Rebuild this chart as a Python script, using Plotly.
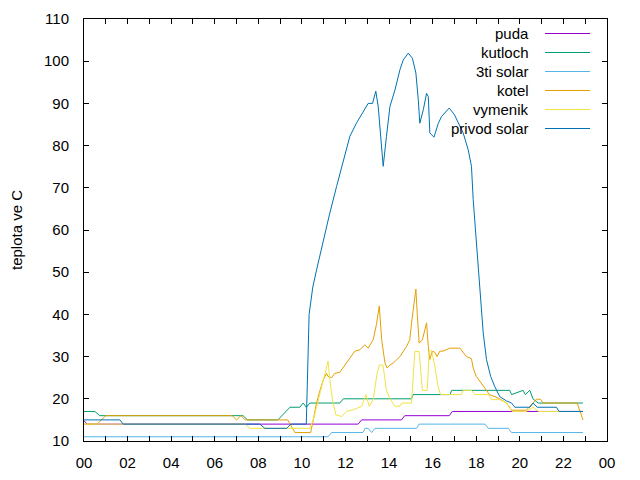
import plotly.graph_objects as go

# ---------------- data (hours of day, temperature in C) ----------------
puda_t = [0, 0.15, 12.58, 12.74, 14.57, 14.72, 16.76, 16.9, 22.9]
puda_v = [14.8, 14, 14, 15, 15, 16, 16, 17, 17]

kutloch_t = [0, 0.5, 0.72, 7.3, 7.5, 8.9, 9.45, 9.9, 10.06, 10.2, 10.37, 11.74, 11.9,
             15.03, 15.1, 16.8, 16.87, 19.54, 19.62, 20.15, 20.25, 20.46, 20.6, 20.84, 22.9]
kutloch_v = [17, 17, 16, 16, 15, 15, 18, 18, 19, 18, 19, 19, 20,
             20, 21, 21, 22, 22, 21, 22, 21, 22, 20, 19, 19]

solar3_t = [0, 11.2, 11.36, 12.8, 12.9, 13.04, 13.2, 13.35, 15.26, 15.38, 18.4, 18.55,
            19.47, 19.62, 22.9]
solar3_v = [11, 11, 12, 12, 13, 13, 12, 13, 13, 14, 14, 13, 13, 12, 12]

kotel_t = [0, 0.6, 1.0, 6.8, 7.0, 7.2, 7.4, 9.35, 9.68, 10.4, 10.52, 10.67, 10.83, 10.98,
           11.13, 11.2, 11.36, 11.5, 11.74, 11.97, 12.2, 12.43, 12.66, 12.89, 13.04, 13.27,
           13.42, 13.55, 13.66, 13.81, 13.91, 14.04, 14.19, 14.5, 14.8, 14.95, 15.03, 15.14,
           15.23, 15.29, 15.38, 15.53, 15.64, 15.72, 15.8, 15.87, 15.98, 16.1, 16.2, 16.33,
           16.48, 16.79, 17.25, 17.55, 17.78, 17.86, 18.0, 18.24, 18.4, 18.6, 19.0, 19.39,
           19.62, 20.3, 20.76, 20.95, 21.07, 22.63, 22.83, 22.9]
kotel_v = [14, 14, 16, 16, 15, 16, 15, 15, 12, 12, 15, 19, 22, 24.5,
           26, 25.3, 25, 26, 26.3, 28, 29.6, 31.3, 31.6, 32.8, 32, 34,
           37.6, 42, 34, 28.5, 27.3, 28, 28.5, 30, 32.4, 34, 37.9, 42,
           46, 40.3, 33.2, 34, 36.4, 38, 32.4, 29.3, 31.3, 31, 30, 31.3,
           31.3, 32, 32, 30, 29.5, 27.3, 25.3, 23.7, 22.5, 21, 20.2, 19,
           17.3, 17.3, 19.9, 19.9, 19, 19, 16, 15]

vymenik_t = [0, 7.4, 7.6, 10.37, 10.52, 10.75, 10.98, 11.13, 11.2, 11.28, 11.4, 11.56,
             11.82, 12.05, 12.35, 12.74, 12.94, 13.09, 13.27, 13.45, 13.55, 13.72, 13.88,
             14.04, 14.27, 14.5, 14.58, 15.03, 15.18, 15.38, 15.53, 15.75, 15.84, 15.95,
             16.1, 16.25, 16.36, 17.32, 17.4, 17.78, 17.94, 18.55, 18.7, 19.08, 19.39,
             19.54, 19.65, 20.3, 20.6, 20.85, 22.9]
vymenik_v = [14, 14, 13, 13, 15, 19.8, 24.5, 27.7, 28.9, 24.5, 19.8, 16.2,
             15.8, 17, 17.4, 18.2, 21, 18.2, 19.8, 26, 28, 28, 22,
             20, 18.2, 18.3, 19, 19, 31.2, 31.2, 22, 22, 31.2, 31.5,
             27.7, 22.9, 21, 21, 22, 22, 21, 21, 19.8, 19.8, 19,
             18, 17, 17, 18, 17, 17]

privod_t = [0, 1.65, 1.8, 8.07, 8.3, 9.3, 9.5, 10.2, 10.33, 10.5, 10.67, 10.98, 11.28,
            11.59, 11.9, 12.2, 12.5, 12.8, 13.04, 13.24, 13.39, 13.5, 13.6, 13.73, 13.88,
            14.04, 14.27, 14.5, 14.65, 14.88, 15.07, 15.23, 15.34, 15.41, 15.57, 15.72,
            15.8, 15.87, 16.06, 16.26, 16.41, 16.76, 17.0, 17.4, 17.63, 17.78, 17.86,
            17.98, 18.09, 18.2, 18.32, 18.47, 18.66, 18.85, 19.08, 19.39, 19.62, 19.77,
            20.46, 20.61, 20.8, 21.68, 21.8, 22.9]
privod_v = [15, 15, 14, 14, 13, 13, 14, 14, 40, 46.5, 50.5, 57.7, 64,
            70.3, 76.7, 82.2, 85.3, 88, 90, 90, 92.9, 89.3, 82.2, 75.1, 82.2,
            89.3, 93.2, 98, 100.3, 101.9, 100.7, 97.2, 90.9, 85.3, 88.5, 92.4,
            91.6, 83, 82, 85.3, 86.9, 88.9, 87.3, 83, 79, 75.1, 67.2,
            59.3, 51.4, 43.5, 35.6, 29.3, 25.3, 22.9, 20.5, 19.5, 19, 18,
            18, 19, 18, 18, 17, 17]

names = ["puda", "kutloch", "3ti solar", "kotel", "vymenik", "privod solar"]
colors = ["#9400d3", "#009e73", "#56b4e9", "#e69f00", "#f0e442", "#0072b2"]
series = [(puda_t, puda_v), (kutloch_t, kutloch_v), (solar3_t, solar3_v),
          (kotel_t, kotel_v), (vymenik_t, vymenik_v), (privod_t, privod_v)]

x_tickvals = list(range(0, 25, 2))
x_ticktext = ["00", "02", "04", "06", "08", "10", "12", "14", "16", "18", "20", "22", "00"]
y_tickvals = list(range(10, 111, 10))

FONT = "Liberation Sans, Arial, sans-serif"

fig = go.Figure()
for (t, v), n, c in zip(series, names, colors):
    fig.add_trace(go.Scatter(x=t, y=v, mode="lines", name=n,
                             line=dict(color=c, width=1), showlegend=False))

# gnuplot-style key: right-aligned text followed by a line sample
W, H = 640, 480
L, R, T, B = 84, 33, 19, 39
pw, ph = W - L - R, H - T - B
key_y0 = 33.5
key_dy = 19
for i, (n, c) in enumerate(zip(names, colors)):
    ypix = key_y0 + i * key_dy
    yp = 1 - (ypix - T) / ph
    fig.add_annotation(xref="paper", yref="paper", x=(531 - L) / pw, y=yp,
                       text=n, showarrow=False, xanchor="right", yanchor="middle",
                       font=dict(family=FONT, size=15, color="black"))
    fig.add_shape(type="line", xref="paper", yref="paper",
                  x0=(545 - L) / pw, x1=(590 - L) / pw, y0=yp, y1=yp,
                  line=dict(color=c, width=1))

axis_common = dict(showline=True, linecolor="black", linewidth=1, mirror="allticks",
                   ticks="inside", ticklen=5, tickcolor="black", showgrid=False,
                   zeroline=False, automargin=False,
                   tickfont=dict(family=FONT, size=15, color="black"))

fig.update_layout(
    width=W, height=H,
    margin=dict(l=L, r=R, t=T, b=B),
    paper_bgcolor="white", plot_bgcolor="white",
    xaxis=dict(range=[0, 24], tickvals=x_tickvals, ticktext=x_ticktext,
               ticklabelstandoff=8,
               minor=dict(dtick=1, tick0=0, ticks="inside", ticklen=5, tickcolor="black"),
               **axis_common),
    yaxis=dict(range=[10, 110], tickvals=y_tickvals, ticklabelstandoff=11,
               title=dict(text="teplota ve C", font=dict(family=FONT, size=15, color="black"),
                          standoff=17),
               **axis_common),
)

fig.write_html("out.html")
